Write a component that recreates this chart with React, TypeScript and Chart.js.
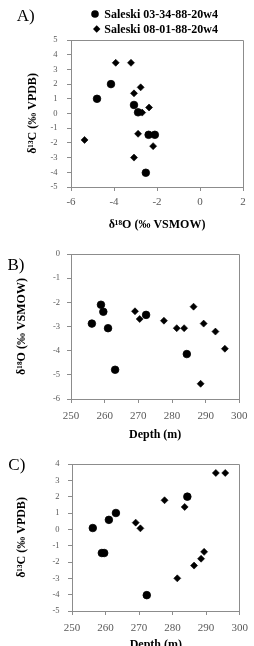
import React, { useEffect, useRef } from "react";
import { Chart, registerables } from "chart.js";

Chart.register(...registerables);

// Series names (legend)
const seriesNames = ["Saleski 03-34-88-20w4", "Saleski 08-01-88-20w4"];

// Saleski 03-34-88-20w4 (circles)
const circleDepth = [256.2, 258.9, 259.6, 261.0, 263.1, 272.3, 284.4];
const circleD18O = [-2.88, -2.1, -2.39, -3.07, -4.79, -2.52, -4.14];
const circleD13C = [0.08, -1.45, -1.45, 0.58, 1.0, -4.03, 2.0];

// Saleski 08-01-88-20w4 (diamonds)
const diamondDepth = [269.0, 270.4, 277.6, 281.4, 283.6, 286.4, 288.5, 289.4, 292.9, 295.7];
const diamondD18O = [-2.37, -2.69, -2.76, -3.07, -3.07, -2.18, -5.37, -2.88, -3.21, -3.92];
const diamondD13C = [0.41, 0.06, 1.78, -3.0, 1.37, -2.22, -1.8, -1.38, 3.45, 3.45];

// Tick values
const d18OTicksA = [-6, -4, -2, 0, 2];
const d13CTicksA = [-5, -4, -3, -2, -1, 0, 1, 2, 3, 4, 5];
const depthTicks = [250, 260, 270, 280, 290, 300];
const d18OTicksB = [-6, -5, -4, -3, -2, -1, 0];
const d13CTicksC = [-5, -4, -3, -2, -1, 0, 1, 2, 3, 4];

const panelLetters = ["A)", "B)", "C)"];
const titleD13C = "δ¹³C (‰ VPDB)";
const titleD18O = "δ¹⁸O (‰ VSMOW)";
const titleDepth = "Depth (m)";

const SERIF = '"Liberation Serif", "Times New Roman", serif';
const LINE = "#8c8c8c";
const TICK = "#595959";

type Spec = {
  key: string;
  letter: string;
  top: number;
  height: number;
  cx: number[];
  cy: number[];
  dx: number[];
  dy: number[];
  xTicks: number[];
  yTicks: number[];
  xTitle: string;
  yTitle: string;
  padTop: number;
  padRight: number;
  yWidth: number;
  xHeight: number;
  xTickPad: number;
  yTickPad: number;
  yTitlePad: number;
  xTitlePad: number;
  letterX: number;
  letterY: number;
  legend: boolean;
};

const specs: Spec[] = [
  {
    key: "A",
    letter: panelLetters[0],
    top: 0,
    height: 240,
    cx: circleD18O,
    cy: circleD13C,
    dx: diamondD18O,
    dy: diamondD13C,
    xTicks: d18OTicksA,
    yTicks: d13CTicksA,
    xTitle: titleD18O,
    yTitle: titleD13C,
    padTop: 40,
    padRight: 11,
    yWidth: 71,
    xHeight: 53,
    xTickPad: 5,
    yTickPad: 9.5,
    yTitlePad: 25.8,
    xTitlePad: 7.8,
    letterX: 16.7,
    letterY: 16.5,
    legend: true,
  },
  {
    key: "B",
    letter: panelLetters[1],
    top: 240,
    height: 210,
    cx: circleDepth,
    cy: circleD18O,
    dx: diamondDepth,
    dy: diamondD18O,
    xTicks: depthTicks,
    yTicks: d18OTicksB,
    xTitle: titleDepth,
    yTitle: titleD18O,
    padTop: 14,
    padRight: 11,
    yWidth: 71,
    xHeight: 51,
    xTickPad: 6.4,
    yTickPad: 7,
    yTitlePad: 14.8,
    xTitlePad: 7.8,
    letterX: 7.5,
    letterY: 26,
    legend: false,
  },
  {
    key: "C",
    letter: panelLetters[2],
    top: 450,
    height: 210,
    cx: circleDepth,
    cy: circleD13C,
    dx: diamondDepth,
    dy: diamondD13C,
    xTicks: depthTicks,
    yTicks: d13CTicksC,
    xTitle: titleDepth,
    yTitle: titleD13C,
    padTop: 14,
    padRight: 8,
    yWidth: 72,
    xHeight: 49,
    xTickPad: 6.1,
    yTickPad: 8.4,
    yTitlePad: 14.8,
    xTitlePad: 7.8,
    letterX: 8.3,
    letterY: 16,
    legend: false,
  },
];

const align = (v: number) => Math.round(v - 0.5) + 0.5;

function decorPlugin(spec: Spec) {
  return {
    id: "decor" + spec.key,
    afterDraw(chart: any) {
      const { ctx, chartArea: a } = chart;
      ctx.save();
      // top & right frame
      ctx.strokeStyle = LINE;
      ctx.lineWidth = 1;
      ctx.beginPath();
      ctx.moveTo(align(a.left), align(a.top));
      ctx.lineTo(align(a.right), align(a.top));
      ctx.lineTo(align(a.right), align(a.bottom));
      ctx.stroke();
      // panel letter
      ctx.fillStyle = "#000";
      ctx.font = `17px ${SERIF}`;
      ctx.textBaseline = "middle";
      ctx.textAlign = "left";
      ctx.fillText(spec.letter, spec.letterX, spec.letterY);
      // legend
      if (spec.legend) {
        ctx.beginPath();
        ctx.arc(95, 14, 3.8, 0, Math.PI * 2);
        ctx.fill();
        ctx.beginPath();
        ctx.moveTo(96.7 - 3.7, 29);
        ctx.lineTo(96.7, 29 - 3.7);
        ctx.lineTo(96.7 + 3.7, 29);
        ctx.lineTo(96.7, 29 + 3.7);
        ctx.closePath();
        ctx.fill();
        ctx.font = `bold 12px ${SERIF}`;
        ctx.fillText(chart.data.datasets[0].label, 104.3, 14.5);
        ctx.fillText(chart.data.datasets[1].label, 104.3, 29.5);
      }
      ctx.restore();
    },
  };
}

function makeConfig(spec: Spec): any {
  const xStep = spec.xTicks[1] - spec.xTicks[0];
  const yStep = spec.yTicks[1] - spec.yTicks[0];
  return {
    type: "scatter",
    data: {
      datasets: [
        {
          label: seriesNames[0],
          data: spec.cx.map((x, i) => ({ x, y: spec.cy[i] })),
          pointStyle: "circle",
          pointRadius: 3.8,
          pointBackgroundColor: "#000",
          pointBorderColor: "#000",
          pointBorderWidth: 0.8,
        },
        {
          label: seriesNames[1],
          data: spec.dx.map((x, i) => ({ x, y: spec.dy[i] })),
          pointStyle: "rectRot",
          pointRadius: 3.5,
          pointBackgroundColor: "#000",
          pointBorderColor: "#000",
          pointBorderWidth: 0.6,
        },
      ],
    },
    options: {
      animation: false,
      responsive: false,
      maintainAspectRatio: false,
      devicePixelRatio: 1,
      events: [],
      layout: { padding: { top: spec.padTop, right: spec.padRight, bottom: 0, left: 0 } },
      plugins: { legend: { display: false }, tooltip: { enabled: false }, title: { display: false } },
      scales: {
        x: {
          type: "linear",
          min: spec.xTicks[0],
          max: spec.xTicks[spec.xTicks.length - 1],
          ticks: {
            stepSize: xStep,
            autoSkip: false,
            maxRotation: 0,
            color: TICK,
            padding: spec.xTickPad,
            font: { family: SERIF, size: 11 },
          },
          grid: { drawOnChartArea: false, drawTicks: true, tickLength: 4, color: LINE, lineWidth: 1 },
          border: { display: true, color: LINE, width: 1 },
          title: {
            display: true,
            text: spec.xTitle,
            color: "#000",
            font: { family: SERIF, size: 12, weight: "bold" },
            padding: { top: 0, bottom: spec.xTitlePad },
          },
          afterFit: (s: any) => {
            s.height = spec.xHeight;
          },
        },
        y: {
          type: "linear",
          min: spec.yTicks[0],
          max: spec.yTicks[spec.yTicks.length - 1],
          ticks: {
            stepSize: yStep,
            autoSkip: false,
            color: TICK,
            padding: spec.yTickPad,
            font: { family: SERIF, size: 8.5 },
          },
          grid: { drawOnChartArea: false, drawTicks: true, tickLength: 4, color: LINE, lineWidth: 1 },
          border: { display: true, color: LINE, width: 1 },
          title: {
            display: true,
            text: spec.yTitle,
            color: "#000",
            font: { family: SERIF, size: 12, weight: "bold" },
            padding: { top: spec.yTitlePad, bottom: 0 },
          },
          afterFit: (s: any) => {
            s.width = spec.yWidth;
          },
        },
      },
    },
    plugins: [decorPlugin(spec)],
  };
}

function Panel({ spec }: { spec: Spec }) {
  const ref = useRef<HTMLCanvasElement>(null);
  useEffect(() => {
    if (!ref.current) return;
    const chart = new Chart(ref.current, makeConfig(spec));
    return () => chart.destroy();
  }, [spec]);
  return (
    <canvas
      ref={ref}
      width={254}
      height={spec.height}
      style={{ position: "absolute", left: 0, top: spec.top, width: 254, height: spec.height, display: "block" }}
    />
  );
}

export default function App() {
  return (
    <div
      style={{
        position: "absolute",
        left: 0,
        top: 0,
        width: 254,
        height: 646,
        overflow: "hidden",
        background: "#fff",
      }}
    >
      {specs.map((s) => (
        <Panel key={s.key} spec={s} />
      ))}
    </div>
  );
}
